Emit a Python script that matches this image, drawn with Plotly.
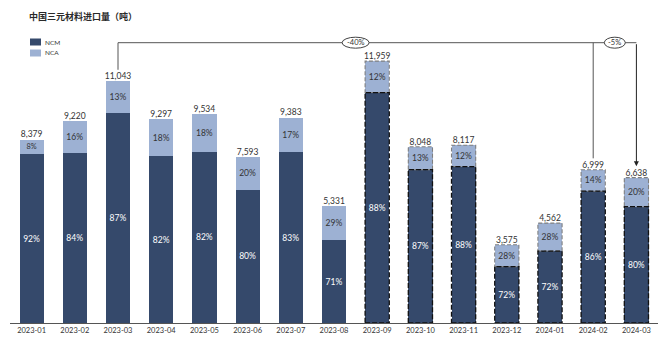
import plotly.graph_objects as go

months = ["2023-01", "2023-02", "2023-03", "2023-04", "2023-05", "2023-06", "2023-07", "2023-08",
          "2023-09", "2023-10", "2023-11", "2023-12", "2024-01", "2024-02", "2024-03"]
totals = [8379, 9220, 11043, 9297, 9534, 7593, 9383, 5331, 11959, 8048, 8117, 3575, 4562, 6999, 6638]
ncm_pct = [92, 84, 87, 82, 82, 80, 83, 71, 88, 87, 88, 72, 72, 86, 80]
nca_pct = [8, 16, 13, 18, 18, 20, 17, 29, 12, 13, 12, 28, 28, 14, 20]
dashed_from = 8  # bars from 2023-09 on are drawn with dashed outlines
changes = [("-40%", 2, 14), ("-5%", 13, 14)]

NCM_C = "#35496b"
NCA_C = "#9db1d3"
TXT = "#333333"
LINE = "#555555"
FONT = "Lato"
BW = 0.56

ncm_vals = [t * p / 100 for t, p in zip(totals, ncm_pct)]
nca_vals = [t - n for t, n in zip(totals, ncm_vals)]
xs = list(range(len(months)))

fig = go.Figure()
fig.add_trace(go.Bar(x=xs, y=ncm_vals, name="NCM", marker=dict(color=NCM_C, line=dict(width=0)),
                     width=BW, text=[f"{p}%" for p in ncm_pct], textposition="inside",
                     insidetextanchor="middle", textangle=0,
                     textfont=dict(color="white", size=8.5, family=FONT), hoverinfo="skip"))
fig.add_trace(go.Bar(x=xs, y=nca_vals, name="NCA", marker=dict(color=NCA_C, line=dict(width=0)),
                     width=BW, text=[f"{p}%" for p in nca_pct], textposition="inside",
                     insidetextanchor="middle", textangle=0,
                     textfont=dict(color=TXT, size=8.5, family=FONT), hoverinfo="skip"))
fig.add_trace(go.Scatter(x=xs, y=totals, mode="text", text=[f"{t:,}" for t in totals],
                         textposition="top center", textfont=dict(color=TXT, size=8.5, family=FONT),
                         showlegend=False, hoverinfo="skip", cliponaxis=False))

shapes = []
for i in range(dashed_from, len(months)):
    shapes.append(dict(type="rect", xref="x", yref="y", x0=i - BW / 2, x1=i + BW / 2,
                       y0=ncm_vals[i], y1=totals[i], line=dict(color="#808080", width=1.1, dash="4px,2px"),
                       fillcolor="rgba(0,0,0,0)", layer="above"))
    shapes.append(dict(type="rect", xref="x", yref="y", x0=i - BW / 2, x1=i + BW / 2,
                       y0=0, y1=ncm_vals[i], line=dict(color="#111111", width=1.3, dash="5px,2px"),
                       fillcolor="rgba(0,0,0,0)", layer="above"))

BRACKET_Y = 12800
GAP = 520
annotations = []
a_start, a_end = changes[0][1], changes[0][2]
b_start = changes[1][1]
shapes.append(dict(type="line", xref="x", yref="y", x0=a_start, x1=a_start,
                   y0=totals[a_start] + GAP, y1=BRACKET_Y, line=dict(color=LINE, width=1)))
shapes.append(dict(type="line", xref="x", yref="y", x0=a_start, x1=a_end,
                   y0=BRACKET_Y, y1=BRACKET_Y, line=dict(color=LINE, width=1)))
shapes.append(dict(type="line", xref="x", yref="y", x0=b_start, x1=b_start,
                   y0=totals[b_start] + GAP, y1=BRACKET_Y, line=dict(color=LINE, width=1)))
annotations.append(dict(x=a_end, y=totals[a_end] + GAP, ax=a_end, ay=BRACKET_Y, xref="x", yref="y",
                        axref="x", ayref="y", showarrow=True, arrowhead=2, arrowsize=1, arrowwidth=1,
                        arrowcolor="#222222", text=""))
label_pos = [7.5, 13.5]
for (lab, s, e), lx, wpx in zip(changes, label_pos, [27, 21]):
    shapes.append(dict(type="circle", xref="x", yref="y", xsizemode="pixel", ysizemode="pixel",
                       xanchor=lx, yanchor=BRACKET_Y, x0=-wpx / 2, x1=wpx / 2, y0=-5.5, y1=5.5,
                       fillcolor="white", line=dict(color="#444444", width=1), layer="above"))
    annotations.append(dict(x=lx, y=BRACKET_Y, xref="x", yref="y", text=lab, showarrow=False,
                            font=dict(color=TXT, size=7.5, family=FONT)))

W, H = 660, 347
ML, MR, MT, MB = 10, 2, 20, 24
pw, ph = W - ML - MR, H - MT - MB
def px_to_paper_x(px): return (px - ML) / pw
def px_to_paper_y(py): return (H - MB - py) / ph

# title
annotations.append(dict(x=px_to_paper_x(27), y=px_to_paper_y(17), xref="paper", yref="paper",
                        text="<b>中国三元材料进口量（吨）</b>", showarrow=False, xanchor="left",
                        yanchor="middle", font=dict(color="#2a2a2a", size=9, family="Noto Sans CJK SC")))
# legend
for k, (nm, col) in enumerate([("NCM", NCM_C), ("NCA", NCA_C)]):
    yc = 42 + k * 11
    annotations.append(dict(x=px_to_paper_x(43), y=px_to_paper_y(yc), xref="paper", yref="paper",
                            text=nm, showarrow=False, xanchor="left", yanchor="middle",
                            font=dict(color=TXT, size=6.5, family=FONT)))
    shapes.append(dict(type="rect", xref="paper", yref="paper",
                       x0=px_to_paper_x(30), x1=px_to_paper_x(41),
                       y0=px_to_paper_y(yc + 3.5), y1=px_to_paper_y(yc - 3.5),
                       fillcolor=col, line=dict(width=0)))

fig.update_layout(
    barmode="stack", width=W, height=H, margin=dict(l=ML, r=MR, t=MT, b=MB),
    plot_bgcolor="white", paper_bgcolor="white", showlegend=False,
    shapes=shapes, annotations=annotations,
    xaxis=dict(range=[-0.5, len(months) - 0.5], tickmode="array", tickvals=xs, ticktext=months,
               showline=True, linecolor=LINE, linewidth=1, ticks="", showgrid=False, zeroline=False,
               tickfont=dict(color=TXT, size=7.5, family=FONT)),
    yaxis=dict(range=[0, 13836], visible=False, showgrid=False, zeroline=False),
    font=dict(family=FONT),
)
fig.write_html("out.html")
